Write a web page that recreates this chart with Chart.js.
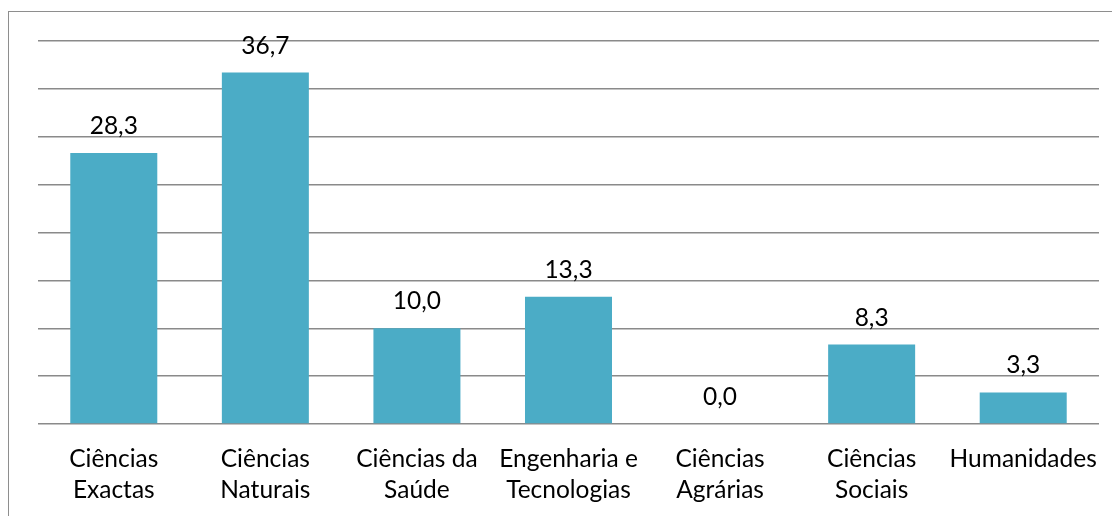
<!DOCTYPE html>
<html>
<head>
<meta charset="utf-8">
<script src="https://cdn.jsdelivr.net/npm/chart.js@4.4.1/dist/chart.umd.min.js"></script>
<style>
    html, body { margin: 0; padding: 0; background: #fff; }
    #wrap { position: relative; width: 1112px; height: 516px; overflow: hidden; }
    #frame { position: absolute; left: 8px; top: 11px; width: 1200px; height: 600px; border: 1px solid #8e8e8e; box-sizing: border-box; }
    canvas { position: absolute; left: 0; top: 0; }
</style>
</head>
<body>
<div id="wrap">
    <div id="frame"></div>
    <canvas id="chart" width="1112" height="516"></canvas>
</div>
<script>
const categories = [
    ['Ciências', 'Exactas'],
    ['Ciências', 'Naturais'],
    ['Ciências da', 'Saúde'],
    ['Engenharia e', 'Tecnologias'],
    ['Ciências', 'Agrárias'],
    ['Ciências', 'Sociais'],
    ['Humanidades']
];
const values = [28.3, 36.7, 10.0, 13.3, 0.0, 8.3, 3.3];
const yMin = 0;
const yMax = 40;
const yStep = 5;

const FONT = 'Lato, Calibri, "Noto Sans", sans-serif';
const FONT_SIZE = 24.5;

// value labels above each bar, decimal comma
const valueLabels = {
    id: 'valueLabels',
    afterDatasetsDraw(chart) {
        const ctx = chart.ctx;
        const meta = chart.getDatasetMeta(0);
        ctx.save();
        ctx.font = FONT_SIZE + 'px ' + FONT;
        ctx.fillStyle = '#000';
        ctx.textAlign = 'center';
        ctx.textBaseline = 'alphabetic';
        meta.data.forEach((bar, i) => {
            const txt = values[i].toFixed(1).replace('.', ',');
            ctx.fillText(txt, bar.x, bar.y - 19);
        });
        ctx.restore();
    }
};

new Chart(document.getElementById('chart'), {
    type: 'bar',
    data: {
        labels: categories,
        datasets: [{
            data: values,
            backgroundColor: '#4bacc6',
            borderWidth: 0,
            categoryPercentage: 1,
            barPercentage: 0.574
        }]
    },
    options: {
        responsive: false,
        animation: false,
        layout: { padding: { left: 38, right: 13, top: 41, bottom: 0 } },
        plugins: { legend: { display: false }, tooltip: { enabled: false } },
        scales: {
            x: {
                grid: { display: false, drawTicks: false },
                border: { display: false },
                ticks: {
                    color: '#000',
                    font: { family: FONT, size: FONT_SIZE, lineHeight: '31px' },
                    padding: 20,
                    maxRotation: 0,
                    autoSkip: false
                },
                afterFit(scale) {
                    scale.height = 92;
                    scale.paddingLeft = 0;
                    scale.paddingRight = 0;
                }
            },
            y: {
                min: yMin,
                max: yMax,
                ticks: { display: false, stepSize: yStep },
                grid: { color: '#8a8a8a', lineWidth: 1.5, drawTicks: false },
                border: { display: false },
                afterFit(scale) { scale.width = 0; }
            }
        }
    },
    plugins: [valueLabels]
});
</script>
</body>
</html>
